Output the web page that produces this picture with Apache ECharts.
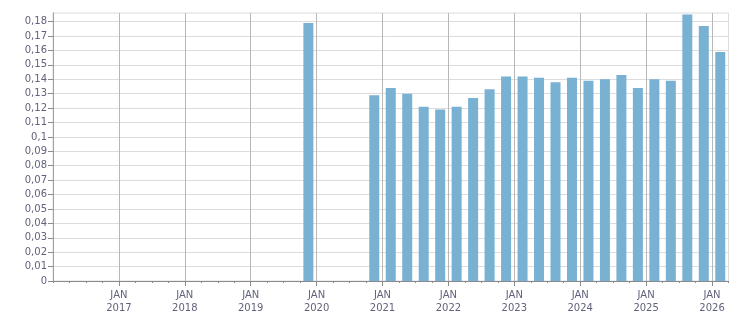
<!DOCTYPE html>
<html><head><meta charset="utf-8">
<script src="https://cdn.jsdelivr.net/npm/echarts@6/dist/echarts.min.js"></script>
<style>html,body{margin:0;padding:0;background:#fff}#c{width:751px;height:313px}</style>
</head><body><div id="c"></div>
<script>
// Quarterly periods (first quarter of the axis is 2016-Q1)
const startYear = 2016;
const quarters = ["2019-Q4","2020-Q4","2021-Q1","2021-Q2","2021-Q3","2021-Q4","2022-Q1","2022-Q2","2022-Q3","2022-Q4",
  "2023-Q1","2023-Q2","2023-Q3","2023-Q4","2024-Q1","2024-Q2","2024-Q3","2024-Q4","2025-Q1","2025-Q2","2025-Q3","2025-Q4","2026-Q1"];
const values = [0.179,0.129,0.134,0.130,0.121,0.119,0.121,0.127,0.133,0.142,
  0.142,0.141,0.138,0.141,0.139,0.140,0.143,0.134,0.140,0.139,0.185,0.177,0.159];
const yTicks = [0,0.01,0.02,0.03,0.04,0.05,0.06,0.07,0.08,0.09,0.1,0.11,0.12,0.13,0.14,0.15,0.16,0.17,0.18];
const yearLabels = ["2017","2018","2019","2020","2021","2022","2023","2024","2025","2026"];

function qIndex(q){ const [y,qq]=q.split('-Q'); return (parseInt(y)-startYear)*4 + (parseInt(qq)-1); }
const data = quarters.map((q,i)=>[qIndex(q)+0.5, values[i]]);
const nQ = (2026-startYear)*4 + 1;

const font = 'DejaVu Sans';
const labelColor = '#62627c';
const chart = echarts.init(document.getElementById('c'));
chart.setOption({
  animation:false,
  grid:{left:53,right:22.5,top:13,bottom:32,show:true,borderColor:'#dcdcdc',borderWidth:1,containLabel:false,outerBoundsMode:'none'},
  xAxis:[{
    type:'value',min:0,max:nQ,interval:4,position:'bottom',
    axisLine:{show:true,lineStyle:{color:'#8a8a8a'}},
    axisTick:{show:true,length:5,lineStyle:{color:'#8a8a8a'}},
    splitLine:{show:true,showMinLine:false,showMaxLine:false,lineStyle:{color:'#b8b8b8'}},
    axisLabel:{showMinLabel:false,showMaxLabel:false,margin:8,color:labelColor,fontFamily:font,fontSize:10,lineHeight:13,
      formatter:v=>{const i=Math.round(v/4)-1; return (i>=0&&i<yearLabels.length)?'JAN\n'+yearLabels[i]:'';}}
  },{
    type:'value',min:0,max:nQ,interval:1,position:'bottom',
    axisLine:{show:false},axisTick:{show:true,length:2,lineStyle:{color:'#8a8a8a'}},
    axisLabel:{show:false},splitLine:{show:false}
  }],
  yAxis:{
    type:'value',min:0,max:0.186,interval:0.01,
    axisLine:{show:true,lineStyle:{color:'#a0a0a0'}},
    axisTick:{show:true,length:5,lineStyle:{color:'#8a8a8a'}},
    splitLine:{show:true,showMinLine:false,showMaxLine:false,lineStyle:{color:'#dcdcdc'}},
    axisLabel:{showMaxLabel:false,margin:6,color:labelColor,fontFamily:font,fontSize:10,
      formatter:v=>{const t=yTicks.find(x=>Math.abs(x-v)<1e-9); return t===undefined?'':String(t).replace('.',',');}}
  },
  series:[{type:'bar',xAxisIndex:0,data:data,barWidth:10,itemStyle:{color:'#79b1d3',borderWidth:0},clip:true}]
});
</script></body></html>
